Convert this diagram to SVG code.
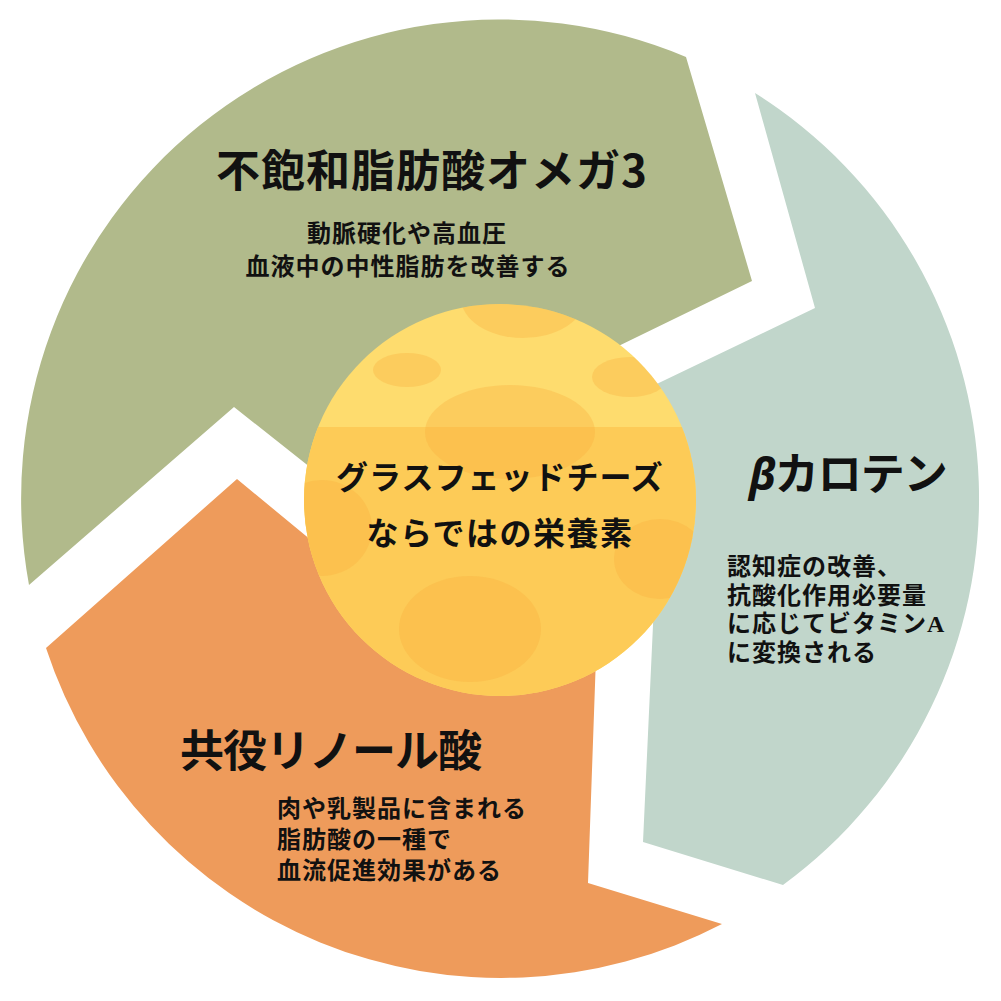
<svg xmlns="http://www.w3.org/2000/svg" width="1001" height="1001" viewBox="0 0 1001 1001">
<defs>
<style>
.t{font-family:"Noto Sans CJK JP","Noto Sans",sans-serif;font-weight:bold;fill:#111}
.h{font-size:44px;letter-spacing:1px}
.s{font-size:24px;letter-spacing:1px}
.c{font-size:32px;letter-spacing:1px}
.spot{fill:#F9B040;fill-opacity:0.35}
</style>
<clipPath id="cheeseClip"><circle cx="500" cy="500" r="196"/></clipPath>
</defs>
<rect width="1001" height="1001" fill="#FFFFFF"/>
<g id="seg-omega3">
<path d="M29,585 A479,479 0 0 1 686,57 L752,281 L600,355 L500,480 L330,483 L234,407 Z" fill="#B1BA8B"/>
<text class="t h" x="432" y="187" text-anchor="middle">不飽和脂肪酸オメガ3</text>
<text class="t s" x="407" y="242" text-anchor="middle">動脈硬化や高血圧</text>
<text class="t s" x="408" y="275" text-anchor="middle">血液中の中性脂肪を改善する</text>
</g>
<g id="seg-betacarotene">
<path d="M755,93 A479,479 0 0 1 783,885 L643,842 L656,560 L600,470 L640,392 L815,308 Z" fill="#C1D6CB"/>
<text class="t h" x="749" y="490" style="letter-spacing:-1px"><tspan font-style="italic" font-family="Noto Sans,sans-serif">β</tspan>カロテン</text>
<text class="t s" x="727" y="575">認知症の改善、</text>
<text class="t s" x="727" y="604">抗酸化作用必要量</text>
<text class="t s" x="727" y="632">に応じてビタミン<tspan font-family="Liberation Serif,serif">A</tspan></text>
<text class="t s" x="727" y="661">に変換される</text>
</g>
<g id="seg-cla">
<path d="M722,924 A479,479 0 0 1 46,648 L237,479 L340,564 L500,560 L598,600 L588,883 Z" fill="#EE9B5B"/>
<text class="t h" x="180" y="767" style="letter-spacing:-1px">共役リノール酸</text>
<text class="t s" x="277" y="817">肉や乳製品に含まれる</text>
<text class="t s" x="277" y="848">脂肪酸の一種で</text>
<text class="t s" x="277" y="879">血流促進効果がある</text>
</g>
<g id="cheese">
<g clip-path="url(#cheeseClip)">
<rect x="300" y="300" width="400" height="400" fill="#FEDC6E"/>
<rect x="300" y="427" width="400" height="280" fill="#FDCB57"/>
<ellipse class="spot" cx="523" cy="298" rx="62" ry="40"/>
<ellipse class="spot" cx="407" cy="370" rx="34" ry="17"/>
<ellipse class="spot" cx="630" cy="377" rx="38" ry="20"/>
<ellipse class="spot" cx="510" cy="432" rx="85" ry="47"/>
<ellipse class="spot" cx="322" cy="528" rx="50" ry="48"/>
<ellipse class="spot" cx="660" cy="559" rx="46" ry="40"/>
<ellipse class="spot" cx="470" cy="629" rx="71" ry="53"/>
</g>
<text class="t c" x="500" y="489" text-anchor="middle">グラスフェッドチーズ</text>
<text class="t c" x="500" y="545" text-anchor="middle" style="letter-spacing:1.5px">ならではの栄養素</text>
</g>
<g id="connectors"/>
</svg>
